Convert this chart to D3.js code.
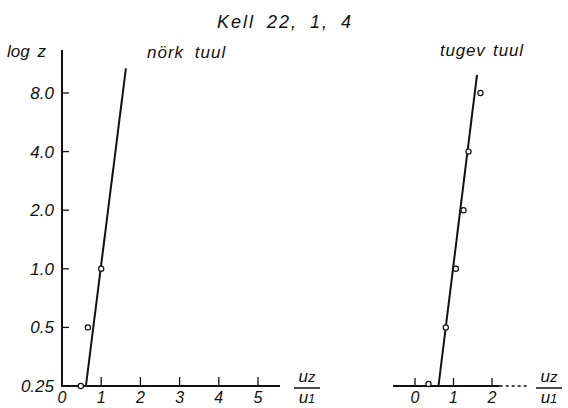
<!DOCTYPE html>
<html>
<head>
<meta charset="utf-8">
<script src="https://cdn.jsdelivr.net/npm/d3@7"></script>
<style>
	body { margin: 0; background: #fff; }
	svg text { font-family: "Liberation Sans", "DejaVu Sans", sans-serif; font-style: italic; fill: #111; }
</style>
</head>
<body>
<svg width="568" height="408"></svg>
<script>
// values
const zTicks = [0.25, 0.5, 1, 2, 4, 8],
	zTickLabels = ["0.25", "0.5", "1.0", "2.0", "4.0", "8.0"],
	leftXTicks = [0, 1, 2, 3, 4, 5],
	rightXTicks = [0, 1, 2];

// nörk tuul
const weakZ = [0.25, 0.5, 1.0],
	weakRatio = [0.48, 0.66, 1.0],
	weakFitZ = [0.25, 10.7],
	weakFitRatio = [0.61, 1.63];

// tugev tuul
const strongZ = [0.25, 0.5, 1.0, 2.0, 4.0, 8.0],
	strongRatio = [0.35, 0.80, 1.06, 1.26, 1.39, 1.70],
	strongFitZ = [0.25, 9.9],
	strongFitRatio = [0.61, 1.61];

const svg = d3.select("svg"),
	width = +svg.attr("width"),
	height = +svg.attr("height");

const y = d3.scaleLog()
	.domain([0.25, 8])
	.range([386, 93]);

const xLeft = d3.scaleLinear()
	.domain([0, 5])
	.range([62, 258]);

const xRight = d3.scaleLinear()
	.domain([0, 2])
	.range([415, 492]);

const line = function(xs) {
	return d3.line()
		.x(function(d) { return xs(d[0]); })
		.y(function(d) { return y(d[1]); });
};

// title
svg.append("text")
	.attr("x", 285)
	.attr("y", 28)
	.attr("text-anchor", "middle")
	.style("font-size", "18px")
	.style("letter-spacing", "2px")
	.style("word-spacing", "5px")
	.text("Kell 22, 1, 4");

svg.append("text")
	.attr("x", 7)
	.attr("y", 57)
	.style("font-size", "17px")
	.style("word-spacing", "3px")
	.text("log z");

svg.append("text")
	.attr("x", 147)
	.attr("y", 58)
	.style("font-size", "17px")
	.style("letter-spacing", "1px")
	.style("word-spacing", "5px")
	.text("nörk tuul");

svg.append("text")
	.attr("x", 440)
	.attr("y", 56)
	.style("font-size", "17px")
	.style("letter-spacing", "0.8px")
	.style("word-spacing", "2px")
	.text("tugev tuul");

// left panel axes
const left = svg.append("g").attr("class", "left");

left.append("line")
	.attr("x1", xLeft(0)).attr("x2", xLeft(0))
	.attr("y1", 50).attr("y2", y(0.25))
	.attr("stroke", "#111").attr("stroke-width", 2);

left.append("line")
	.attr("x1", xLeft(0) - 1).attr("x2", xLeft(5.56))
	.attr("y1", y(0.25)).attr("y2", y(0.25))
	.attr("stroke", "#111").attr("stroke-width", 2);

left.selectAll("line.ytick")
	.data(zTicks.slice(1))
	.enter().append("line")
	.attr("class", "ytick")
	.attr("x1", xLeft(0)).attr("x2", xLeft(0) + 7)
	.attr("y1", function(d) { return y(d); })
	.attr("y2", function(d) { return y(d); })
	.attr("stroke", "#111").attr("stroke-width", 1.3);

left.selectAll("text.ylab")
	.data(zTicks)
	.enter().append("text")
	.attr("class", "ylab")
	.attr("x", 54)
	.attr("y", function(d) { return y(d) + 6; })
	.attr("text-anchor", "end")
	.style("font-size", "17px")
	.text(function(d, i) { return zTickLabels[i]; });

left.selectAll("line.xtick")
	.data(leftXTicks.slice(1))
	.enter().append("line")
	.attr("class", "xtick")
	.attr("x1", function(d) { return xLeft(d); })
	.attr("x2", function(d) { return xLeft(d); })
	.attr("y1", y(0.25)).attr("y2", y(0.25) - 9)
	.attr("stroke", "#111").attr("stroke-width", 1.3);

left.selectAll("text.xlab")
	.data(leftXTicks)
	.enter().append("text")
	.attr("class", "xlab")
	.attr("x", function(d) { return xLeft(d); })
	.attr("y", 403)
	.attr("text-anchor", "middle")
	.style("font-size", "16px")
	.text(function(d) { return d; });

left.append("path")
	.datum(d3.zip(weakFitRatio, weakFitZ))
	.attr("d", line(xLeft))
	.attr("fill", "none")
	.attr("stroke", "#111")
	.attr("stroke-width", 2);

left.selectAll("circle")
	.data(d3.zip(weakRatio, weakZ))
	.enter().append("circle")
	.attr("cx", function(d) { return xLeft(d[0]); })
	.attr("cy", function(d) { return y(d[1]); })
	.attr("r", 2.6)
	.attr("fill", "#fff")
	.attr("stroke", "#111")
	.attr("stroke-width", 1.2);

// right panel (same log z scale, no vertical axis)
const right = svg.append("g").attr("class", "right");

right.append("line")
	.attr("x1", xRight(-0.57)).attr("x2", xRight(2.2))
	.attr("y1", y(0.25)).attr("y2", y(0.25))
	.attr("stroke", "#111").attr("stroke-width", 2);

right.append("line")
	.attr("x1", xRight(2.2)).attr("x2", xRight(2.92))
	.attr("y1", y(0.25)).attr("y2", y(0.25))
	.attr("stroke", "#111").attr("stroke-width", 1.5)
	.attr("stroke-dasharray", "3,3");

right.selectAll("line.xtick")
	.data(rightXTicks)
	.enter().append("line")
	.attr("class", "xtick")
	.attr("x1", function(d) { return xRight(d); })
	.attr("x2", function(d) { return xRight(d); })
	.attr("y1", y(0.25)).attr("y2", y(0.25) - 8)
	.attr("stroke", "#111").attr("stroke-width", 1.3);

right.selectAll("text.xlab")
	.data(rightXTicks)
	.enter().append("text")
	.attr("class", "xlab")
	.attr("x", function(d) { return xRight(d); })
	.attr("y", 403)
	.attr("text-anchor", "middle")
	.style("font-size", "16px")
	.text(function(d) { return d; });

right.append("path")
	.datum(d3.zip(strongFitRatio, strongFitZ))
	.attr("d", line(xRight))
	.attr("fill", "none")
	.attr("stroke", "#111")
	.attr("stroke-width", 2);

right.selectAll("circle")
	.data(d3.zip(strongRatio, strongZ))
	.enter().append("circle")
	.attr("cx", function(d) { return xRight(d[0]); })
	.attr("cy", function(d, i) { return y(d[1]) - (i === 0 ? 2 : 0); })
	.attr("r", 2.6)
	.attr("fill", "#fff")
	.attr("stroke", "#111")
	.attr("stroke-width", 1.2);

// u_z / u_1 fraction labels
[[294, 320], [536, 562]].forEach(function(p) {
	const g = svg.append("g");
	const top = g.append("text")
		.attr("x", (p[0] + p[1]) / 2)
		.attr("y", 382)
		.attr("text-anchor", "middle")
		.style("font-size", "17px");
	top.append("tspan").text("u");
	top.append("tspan").style("font-size", "15px").text("z");
	g.append("line")
		.attr("x1", p[0]).attr("x2", p[1])
		.attr("y1", 388).attr("y2", 388)
		.attr("stroke", "#111").attr("stroke-width", 1.5);
	const bot = g.append("text")
		.attr("x", (p[0] + p[1]) / 2)
		.attr("y", 403)
		.attr("text-anchor", "middle")
		.style("font-size", "17px");
	bot.append("tspan").text("u");
	bot.append("tspan").style("font-size", "13px").text("1");
});
</script>
</body>
</html>
